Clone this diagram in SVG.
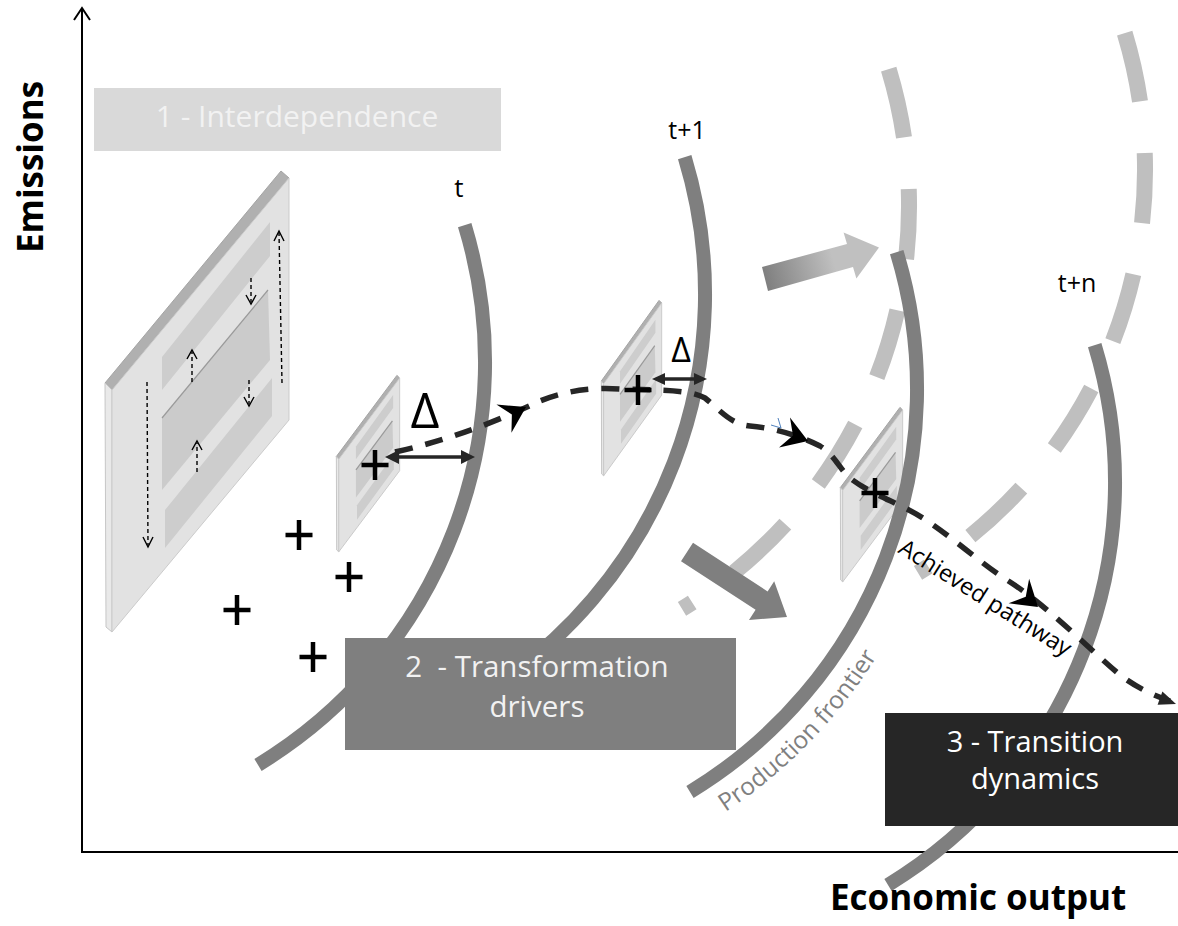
<svg xmlns="http://www.w3.org/2000/svg" width="1178" height="926" viewBox="0 0 1178 926">
<style>
  text { font-family: "Open Sans", "Liberation Sans", "DejaVu Sans", sans-serif; }
  .axis { stroke:#000; stroke-width:2; fill:none; }
  .dark { fill:none; stroke:#7f7f7f; stroke-width:14; }
  .ghost { fill:none; stroke:#bfbfbf; stroke-width:16; stroke-dasharray:70 52; }
  .sdash { stroke:#000; stroke-width:1.4; stroke-dasharray:4 3; fill:none; }
  .chev { stroke:#000; stroke-width:1.4; fill:none; }
  .plus { stroke:#000; stroke-width:4.5; fill:none; }
  .pathway { stroke:#262626; stroke-width:5.5; stroke-dasharray:18 13; fill:none; }
  .head { fill:#000; }
  .dbl { stroke:#262626; stroke-width:3.5; }
  .dblh { fill:#262626; }
  .boxtxt { fill:#f2f2f2; text-anchor:middle; }
  .ns { vector-effect:non-scaling-stroke; }
</style>
<defs>
  <path id="arc" d="M464.7 225.1 A471 471 0 0 1 258 764.9"/>
  <path id="pfPath" d="M722.1 814.2 A507 507 0 0 0 905.5 603.3" fill="none"/>
  <linearGradient id="gradA" gradientUnits="userSpaceOnUse" x1="765" y1="279" x2="879" y2="247">
    <stop offset="0" stop-color="#7f7f7f"/>
    <stop offset="0.6" stop-color="#c0c0c0"/>
    <stop offset="1" stop-color="#c0c0c0"/>
  </linearGradient>
  <g id="plate">
    <polygon class="ns" points="105,383 281,171 289,178 112,390" fill="#b0b0b0" stroke="#a4a4a4" stroke-width="1"/>
    <polygon class="ns" points="105,383 112,390 112,632 106,627" fill="#e9e9e9" stroke="#c6c6c6" stroke-width="1"/>
    <polygon class="ns" points="112,390 289,178 289,420 112,632" fill="#e2e2e2" stroke="#cbcbcb" stroke-width="1"/>
    <polygon points="162,357 270,222 270,256 162,390" fill="#cdcdcd"/>
    <polygon points="162,418 268,290 270,360 162,490" fill="#cbcbcb"/>
    <line class="ns" x1="162" y1="418" x2="268" y2="290" stroke="#9a9a9a" stroke-width="1.2"/>
    <polygon points="165,510 272,378 272,416 165,548" fill="#cdcdcd"/>
  </g>
  <path id="plusShape" d="M-13.5 0 H13.5 M0 -15 V15"/>
  <polygon id="stealth" points="0,0 -25,-16 -16,0 -25,16"/>
</defs>

<g id="axes">
  <line class="axis" x1="82" y1="853" x2="82" y2="8"/>
  <polyline class="axis" points="74,20 82,8 90,20"/>
  <line class="axis" x1="81" y1="852" x2="1178" y2="852"/>
</g>

<g id="interdependence">
  <rect x="94" y="88" width="407" height="63" fill="#d9d9d9"/>
  <text class="boxtxt" x="297" y="127" font-size="30">1 - Interdependence</text>
</g>

<g id="plate-main">
  <use href="#plate"/>
  <line class="sdash" x1="282" y1="383" x2="279" y2="233"/>
  <polyline class="chev" points="274,241 279,231 284,241"/>
  <line class="sdash" x1="147" y1="382" x2="148" y2="545"/>
  <polyline class="chev" points="143,537 148,547 153,537"/>
  <line class="sdash" x1="251" y1="278" x2="251" y2="302"/>
  <polyline class="chev" points="246,295 251,304 256,295"/>
  <line class="sdash" x1="192" y1="382" x2="192" y2="352"/>
  <polyline class="chev" points="187,359 192,350 197,359"/>
  <line class="sdash" x1="249" y1="380" x2="249" y2="404"/>
  <polyline class="chev" points="244,397 249,406 254,397"/>
  <line class="sdash" x1="197" y1="472" x2="197" y2="443"/>
  <polyline class="chev" points="192,450 197,441 202,450"/>
</g>

<g id="future-frontiers">
  <use href="#arc" class="ghost" transform="translate(424 -156)"/>
  <use href="#arc" class="ghost" transform="translate(660 -192)"/>
</g>

<g id="connectors-drivers">
  <polygon points="762,267 847,244 843.6,232.4 879,247.5 856.4,278.6 853,267 768,291" fill="url(#gradA)"/>
  <polygon points="693,542.8 767.6,591.4 774.2,581.3 787,617 749,619.9 755.6,609.8 681,561.2" fill="#7f7f7f"/>
</g>

<g id="plate-a"><use href="#plate" transform="translate(336 375) scale(0.3441 0.3828) translate(-104 -170)"/></g>
<g id="plate-b"><use href="#plate" transform="translate(601 300) scale(0.328 0.3806) translate(-104 -170)"/></g>
<g id="plate-c"><use href="#plate" transform="translate(840 407) scale(0.3387 0.3785) translate(-104 -170)"/></g>

<g id="frontiers">
  <use href="#arc" class="dark"/>
  <use href="#arc" class="dark" transform="translate(220 -68)"/>
  <use href="#arc" class="dark" transform="translate(432 27)"/>
  <use href="#arc" class="dark" transform="translate(630 120)"/>
</g>

<g id="transformation-drivers">
  <rect x="345" y="638" width="391" height="112" fill="#7f7f7f"/>
  <text class="boxtxt" x="537" y="677" font-size="29.5" xml:space="preserve">2  - Transformation</text>
  <text class="boxtxt" x="537" y="717" font-size="29.5">drivers</text>
</g>

<g id="transition-dynamics">
  <rect x="885" y="713" width="293" height="113" fill="#262626"/>
  <text x="1035" y="752" font-size="29" fill="#fff" text-anchor="middle">3 - Transition</text>
  <text x="1035" y="789" font-size="29" fill="#fff" text-anchor="middle">dynamics</text>
</g>

<g id="connectors">
  <path class="pathway" d="M395 452 C450 440 500 420 540 401 C565 391 590 387 620 389 C665 390 690 390 705 398 C720 410 730 424 750 426 C775 428 800 436 820 446 C835 455 840 470 850 478 C865 490 885 498 905 508 C940 525 975 560 1010 582 C1050 608 1090 650 1120 675 C1140 690 1158 697 1170 701"/>
  <use href="#stealth" class="head" transform="translate(526 407) rotate(-28)"/>
  <use href="#stealth" class="head" transform="translate(808 441) rotate(20)"/>
  <use href="#stealth" class="head" transform="translate(1038 607) rotate(40)"/>
  <polygon points="1176,704 1157.6,704.8 1162.4,691.6" fill="#262626"/>
  <line x1="771" y1="425" x2="781" y2="428" stroke="#4f81bd" stroke-width="1"/>
  <line x1="778" y1="418" x2="781" y2="428" stroke="#4f81bd" stroke-width="1"/>
  <line class="dbl" x1="397" y1="457" x2="463" y2="457"/>
  <polygon class="dblh" points="385,457 399,450 399,464"/>
  <polygon class="dblh" points="475,457 461,450 461,464"/>
  <line class="dbl" x1="663" y1="379" x2="696" y2="379" stroke-width="3"/>
  <polygon class="dblh" points="652,379 665,373 665,385"/>
  <polygon class="dblh" points="707,379 694,373 694,385"/>
</g>

<g id="pluses">
  <use href="#plusShape" class="plus" x="375" y="465"/>
  <use href="#plusShape" class="plus" x="638" y="390"/>
  <use href="#plusShape" class="plus" x="875" y="493"/>
  <use href="#plusShape" class="plus" x="299" y="535"/>
  <use href="#plusShape" class="plus" x="349" y="577"/>
  <use href="#plusShape" class="plus" x="237" y="610"/>
  <use href="#plusShape" class="plus" x="313" y="657"/>
</g>

<g id="labels">
  <text x="425" y="428" font-size="50" text-anchor="middle" fill="#000">Δ</text>
  <text x="681" y="362" font-size="34" text-anchor="middle" fill="#000">Δ</text>
  <text x="459" y="197" font-size="26" text-anchor="middle" fill="#000">t</text>
  <text x="687" y="139" font-size="25" text-anchor="middle" fill="#000">t+1</text>
  <text x="1077" y="292" font-size="25" text-anchor="middle" fill="#000">t+n</text>
  <text transform="translate(897 552) rotate(32)" font-size="23.5" fill="#000">Achieved pathway</text>
  <text font-size="24.5" fill="#808080"><textPath href="#pfPath" startOffset="4">Production frontier</textPath></text>
  <text transform="translate(43 167) rotate(-90)" font-size="35" font-weight="bold" text-anchor="middle" fill="#000">Emissions</text>
  <text x="830" y="910" font-size="35" font-weight="bold" fill="#000">Economic output</text>
</g>
</svg>
